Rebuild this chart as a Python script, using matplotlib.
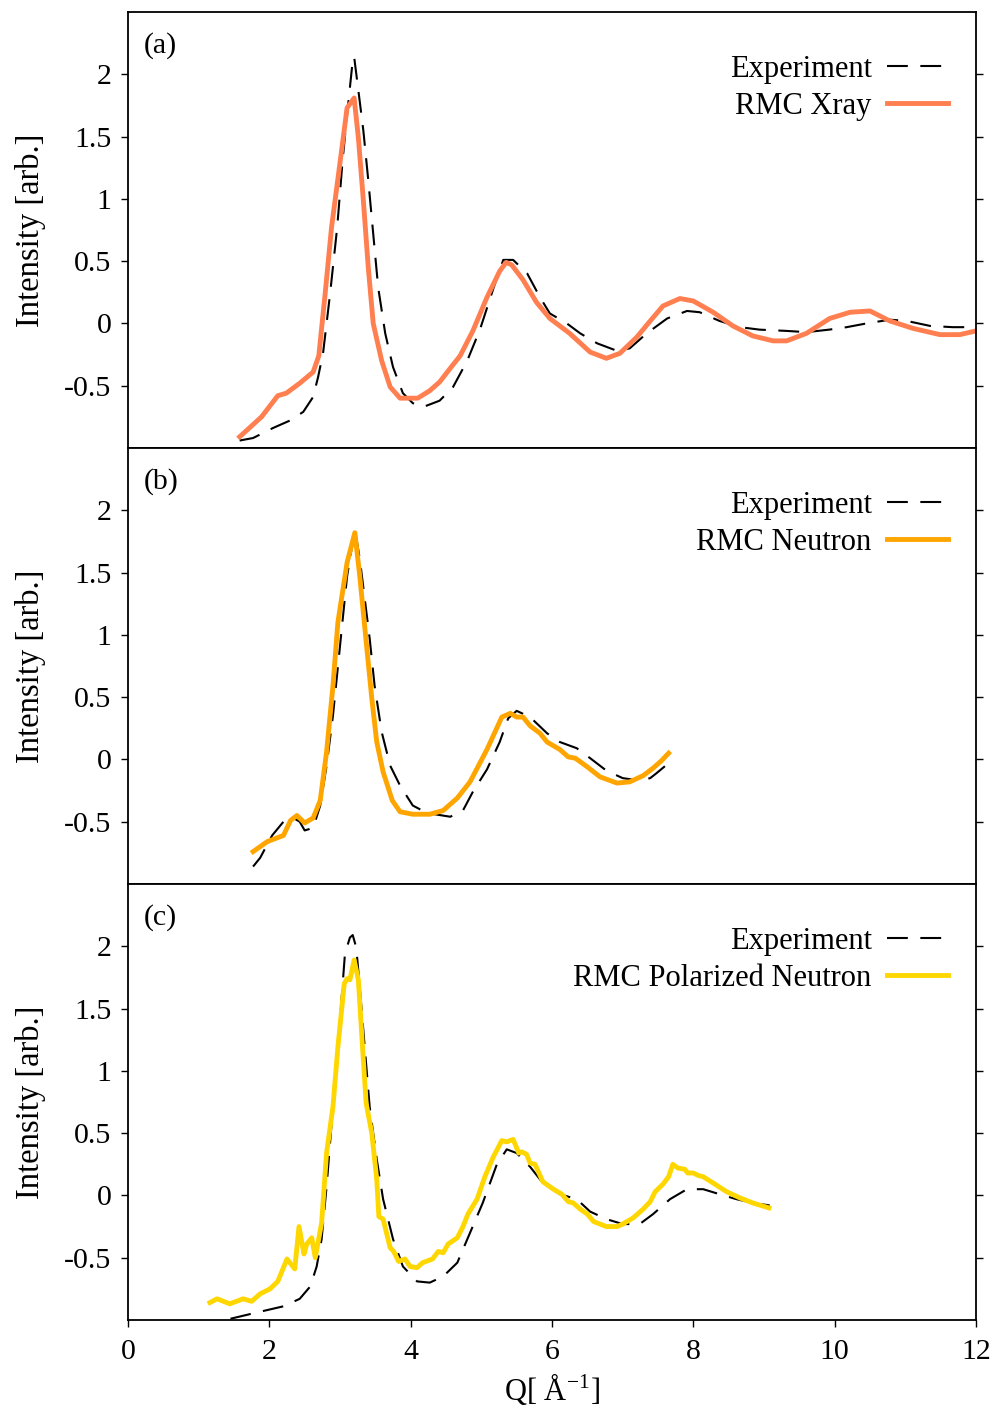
import matplotlib
matplotlib.use("Agg")
import matplotlib.pyplot as plt

plt.rcParams['font.family'] = ['Liberation Serif', 'DejaVu Serif']
plt.rcParams['mathtext.fontset'] = 'stix'
plt.rcParams['axes.unicode_minus'] = False

# (a) X-ray
q_xray_exp = [1.58, 1.77, 2.05, 2.29, 2.48, 2.62, 2.69, 2.76, 2.86, 2.96, 3.04, 3.11, 3.18, 3.20,
              3.26, 3.33, 3.40, 3.47, 3.54, 3.64, 3.75, 3.89, 4.03, 4.18, 4.41, 4.60, 4.80, 4.98,
              5.17, 5.31, 5.45, 5.65, 5.83, 5.97, 6.21, 6.40, 6.64, 6.92, 7.10, 7.34, 7.63, 7.91,
              8.09, 8.37, 8.66, 8.94, 9.32, 9.60, 9.92, 10.17, 10.45, 10.78, 11.02, 11.35, 11.67, 12.0]
i_xray_exp = [-0.94, -0.92, -0.84, -0.78, -0.71, -0.59, -0.43, -0.24, 0.24, 0.77, 1.33, 1.73, 2.11, 2.14,
              1.87, 1.55, 1.15, 0.72, 0.29, -0.08, -0.35, -0.56, -0.64, -0.67, -0.62, -0.51, -0.30, -0.05,
              0.28, 0.51, 0.51, 0.40, 0.21, 0.08, 0.0, -0.08, -0.16, -0.22, -0.20, -0.08, 0.04, 0.10,
              0.09, 0.02, -0.03, -0.05, -0.06, -0.07, -0.05, -0.03, 0.0, 0.03, 0.02, -0.02, -0.03, -0.03]
q_xray_rmc = [1.58, 1.89, 2.12, 2.24, 2.43, 2.62, 2.70, 2.79, 2.88, 3.00, 3.10, 3.20, 3.26, 3.33,
              3.40, 3.47, 3.59, 3.71, 3.85, 4.10, 4.27, 4.41, 4.56, 4.70, 4.88, 5.08, 5.26, 5.35,
              5.43, 5.59, 5.78, 5.97, 6.25, 6.54, 6.77, 6.96, 7.20, 7.39, 7.57, 7.81, 8.00, 8.28,
              8.56, 8.84, 9.13, 9.32, 9.60, 9.93, 10.22, 10.50, 10.78, 11.11, 11.49, 11.77, 12.0]
i_xray_rmc = [-0.91, -0.75, -0.58, -0.56, -0.48, -0.39, -0.26, 0.24, 0.77, 1.29, 1.73, 1.81, 1.49, 0.99,
              0.45, 0.0, -0.30, -0.51, -0.60, -0.60, -0.54, -0.47, -0.36, -0.26, -0.06, 0.21, 0.42, 0.49,
              0.47, 0.35, 0.17, 0.04, -0.08, -0.23, -0.28, -0.24, -0.11, 0.02, 0.14, 0.20, 0.18, 0.09,
              -0.02, -0.10, -0.14, -0.14, -0.08, 0.04, 0.09, 0.10, 0.02, -0.04, -0.09, -0.09, -0.06]

# (b) neutron
q_neu_exp = [1.77, 1.87, 2.04, 2.20, 2.34, 2.43, 2.50, 2.62, 2.72, 2.81, 2.90, 3.00, 3.10, 3.21,
             3.28, 3.35, 3.42, 3.49, 3.59, 3.71, 3.85, 4.03, 4.23, 4.56, 4.74, 4.88, 5.08, 5.26,
             5.38, 5.50, 5.69, 5.93, 6.11, 6.35, 6.54, 6.77, 7.00, 7.24, 7.39, 7.48, 7.65]
i_neu_exp = [-0.86, -0.79, -0.61, -0.50, -0.47, -0.50, -0.57, -0.55, -0.37, -0.05, 0.35, 0.91, 1.47, 1.85,
             1.61, 1.29, 0.97, 0.59, 0.22, -0.05, -0.21, -0.37, -0.43, -0.46, -0.41, -0.26, -0.08, 0.14,
             0.33, 0.39, 0.34, 0.21, 0.14, 0.09, 0.01, -0.09, -0.15, -0.17, -0.15, -0.11, -0.03]
q_neu_rmc = [1.77, 1.97, 2.20, 2.30, 2.39, 2.50, 2.62, 2.72, 2.81, 2.90, 2.97, 3.10, 3.21, 3.28,
             3.38, 3.45, 3.52, 3.61, 3.74, 3.85, 4.03, 4.27, 4.46, 4.66, 4.84, 5.08, 5.29, 5.41,
             5.50, 5.59, 5.69, 5.83, 5.93, 6.11, 6.23, 6.33, 6.50, 6.68, 6.92, 7.10, 7.29, 7.43,
             7.55, 7.65]
i_neu_rmc = [-0.74, -0.66, -0.61, -0.49, -0.45, -0.51, -0.47, -0.33, 0.06, 0.59, 1.10, 1.58, 1.82, 1.47,
             0.89, 0.49, 0.14, -0.10, -0.33, -0.42, -0.44, -0.44, -0.41, -0.31, -0.18, 0.08, 0.34, 0.37,
             0.34, 0.34, 0.27, 0.21, 0.14, 0.08, 0.02, 0.01, -0.06, -0.14, -0.19, -0.18, -0.13, -0.07,
             -0.01, 0.05]

# (c) polarized neutron
q_pol_exp = [1.45, 1.82, 2.20, 2.43, 2.58, 2.67, 2.74, 2.81, 2.90, 3.00, 3.07, 3.14, 3.18, 3.23,
             3.28, 3.35, 3.42, 3.52, 3.61, 3.75, 3.89, 4.09, 4.27, 4.46, 4.66, 4.84, 5.02, 5.22,
             5.36, 5.50, 5.69, 5.87, 6.11, 6.35, 6.54, 6.77, 7.00, 7.24, 7.43, 7.67, 7.91, 8.14,
             8.37, 8.61, 8.84, 9.08]
i_pol_exp = [-0.99, -0.94, -0.89, -0.83, -0.73, -0.57, -0.35, 0.07, 0.71, 1.41, 1.94, 2.07, 2.09, 1.99,
             1.67, 1.19, 0.71, 0.29, -0.03, -0.35, -0.57, -0.69, -0.70, -0.65, -0.54, -0.30, -0.06, 0.25,
             0.37, 0.34, 0.23, 0.10, 0.01, -0.03, -0.13, -0.19, -0.23, -0.23, -0.15, -0.03, 0.05, 0.05,
             0.01, -0.03, -0.06, -0.08]
q_pol_rmc = [1.16, 1.26, 1.44, 1.63, 1.75, 1.87, 2.01, 2.12, 2.25, 2.36, 2.42, 2.49, 2.53, 2.60,
             2.65, 2.74, 2.81, 2.90, 2.97, 3.06, 3.10, 3.14, 3.20, 3.26, 3.31, 3.37, 3.45, 3.52,
             3.55, 3.61, 3.71, 3.76, 3.83, 3.92, 3.99, 4.09, 4.17, 4.31, 4.39, 4.46, 4.53, 4.66,
             4.74, 4.81, 4.94, 5.05, 5.17, 5.29, 5.36, 5.45, 5.53, 5.57, 5.64, 5.69, 5.76, 5.87,
             6.02, 6.14, 6.23, 6.30, 6.40, 6.50, 6.59, 6.77, 6.92, 7.00, 7.15, 7.29, 7.39, 7.46,
             7.57, 7.65, 7.71, 7.78, 7.88, 7.92, 8.00, 8.07, 8.14, 8.28, 8.47, 8.66, 8.84, 9.07]
i_pol_rmc = [-0.86, -0.83, -0.87, -0.83, -0.85, -0.79, -0.75, -0.69, -0.51, -0.59, -0.25, -0.47, -0.39, -0.34,
             -0.50, -0.22, 0.34, 0.71, 1.19, 1.70, 1.74, 1.73, 1.89, 1.73, 1.27, 0.74, 0.50, 0.13,
             -0.17, -0.19, -0.42, -0.45, -0.53, -0.51, -0.57, -0.58, -0.54, -0.51, -0.45, -0.46, -0.39, -0.34,
             -0.25, -0.15, -0.03, 0.15, 0.31, 0.44, 0.43, 0.45, 0.34, 0.35, 0.33, 0.26, 0.25, 0.11,
             0.05, 0.01, -0.05, -0.06, -0.11, -0.15, -0.21, -0.25, -0.25, -0.23, -0.18, -0.11, -0.05, 0.03,
             0.09, 0.15, 0.25, 0.22, 0.21, 0.18, 0.18, 0.16, 0.15, 0.10, 0.03, -0.02, -0.06, -0.10]

panels = [
    ("(a)", "RMC Xray", "#ff7f50", q_xray_exp, i_xray_exp, q_xray_rmc, i_xray_rmc),
    ("(b)", "RMC Neutron", "#ffa500", q_neu_exp, i_neu_exp, q_neu_rmc, i_neu_rmc),
    ("(c)", "RMC Polarized Neutron", "#ffd700", q_pol_exp, i_pol_exp, q_pol_rmc, i_pol_rmc),
]
y_ticks = [-0.5, 0, 0.5, 1, 1.5, 2]
y_ticklabels = ["-0.5", "0", "0.5", "1", "1.5", "2"]

fig = plt.figure(figsize=(9.95, 14.11), dpi=100)
left, width, height = 128 / 995, 848 / 995, 436 / 1411
bottoms = [1 - 448 / 1411, 1 - 884 / 1411, 1 - 1320 / 1411]

for k, (tag, name, color, qe, ie, qr, ir) in enumerate(panels):
    ax = fig.add_axes([left, bottoms[k], width, height])
    ax.plot(qe, ie, color="black", lw=1.5, ls=(0, (10, 6)), label="Experiment")
    ax.plot(qr, ir, color=color, lw=3.5, label=name)
    ax.set_xlim(0, 12)
    ax.set_ylim(-1, 2.5)
    ax.set_yticks(y_ticks)
    ax.set_yticklabels(y_ticklabels)
    ax.tick_params(axis="y", which="both", direction="out", length=5, width=1, pad=7,
                   left=True, right=True, labelsize=21.5)
    ax.set_xticks(range(0, 13, 2))
    ax.tick_params(axis="x", direction="out", length=5, width=1, top=False, pad=9,
                   bottom=(k == 2), labelbottom=(k == 2), labelsize=21.5)
    for sp in ax.spines.values():
        sp.set_linewidth(1.3)
    ax.set_ylabel("Intensity [arb.]", fontsize=23.5, labelpad=13)
    ax.text(0.018, 0.924, tag, transform=ax.transAxes, fontsize=21.5, va="center")
    ax.legend(loc="upper right", bbox_to_anchor=(0.967, 0.901), frameon=False,
              markerfirst=False, fontsize=22, handlelength=2.0, handletextpad=0.5,
              labelspacing=0.25, borderpad=0, borderaxespad=0)

fig.axes[-1].set_xlabel(r"Q[ Å$^{\mathregular{-1}}$]", fontsize=22, labelpad=4)

fig.savefig("out.png", dpi=100)
